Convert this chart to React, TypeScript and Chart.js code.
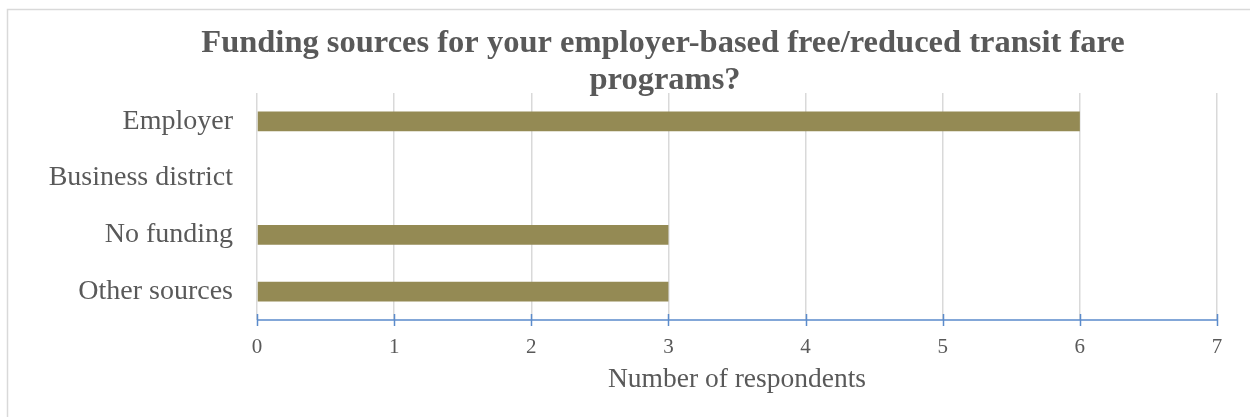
import React, { useEffect, useRef } from "react";
import { Chart, registerables } from "chart.js";

Chart.register(...registerables);

const categories = ["Employer", "Business district", "No funding", "Other sources"];
const respondents = [6, 0, 3, 3];
const titleLines = ["Funding sources for your employer-based free/reduced transit fare", "programs?"];
const xAxisTitle = "Number of respondents";

const TEXT = "#595959";
const FONT = "'Liberation Serif', 'Times New Roman', serif";

const decorPlugin = {
  id: "decor",
  beforeDraw(chart: any) {
    const ctx = chart.ctx;
    ctx.save();
    ctx.fillStyle = "#ffffff";
    ctx.fillRect(0, 0, chart.width, chart.height);
    ctx.strokeStyle = "#D9D9D9";
    ctx.lineWidth = 1.5;
    ctx.strokeRect(7.5, 9.5, chart.width + 20, chart.height + 20);
    ctx.fillStyle = TEXT;
    ctx.font = `bold 32.5px ${FONT}`;
    ctx.textAlign = "center";
    ctx.textBaseline = "alphabetic";
    ctx.fillText(titleLines[0], 663, 52);
    ctx.fillText(titleLines[1], 665, 89);
    ctx.restore();
  },
  afterDatasetsDraw(chart: any) {
    const ctx = chart.ctx;
    const x = chart.scales.x;
    const area = chart.chartArea;
    ctx.save();
    ctx.strokeStyle = "#5B8BCB";
    ctx.lineWidth = 1.5;
    ctx.beginPath();
    ctx.moveTo(area.left, area.bottom);
    ctx.lineTo(area.right, area.bottom);
    x.ticks.forEach((t: any) => {
      const px = Math.round(x.getPixelForValue(t.value)) + 0.5;
      ctx.moveTo(px, area.bottom - 6);
      ctx.lineTo(px, area.bottom + 6);
    });
    ctx.stroke();
    ctx.restore();
  },
};

export default function App() {
  const ref = useRef<HTMLCanvasElement | null>(null);
  useEffect(() => {
    if (!ref.current) return;
    const chart = new Chart(ref.current, {
      type: "bar",
      data: {
        labels: categories,
        datasets: [
          {
            data: respondents,
            backgroundColor: "#948A54",
            barPercentage: 1,
            categoryPercentage: 0.35,
          },
        ],
      },
      options: {
        indexAxis: "y",
        animation: false,
        responsive: false,
        devicePixelRatio: 1,
        layout: { padding: { top: 93, right: 33, left: 0, bottom: 0 } },
        plugins: { legend: { display: false }, title: { display: false }, tooltip: { enabled: false } },
        scales: {
          x: {
            min: 0,
            max: 7,
            ticks: { stepSize: 1, color: TEXT, font: { family: FONT, size: 21 }, padding: 15 },
            grid: { color: "#D9D9D9", lineWidth: 1.5, drawTicks: false },
            border: { display: false },
            title: {
              display: true,
              text: xAxisTitle,
              color: TEXT,
              font: { family: FONT, size: 27.5 },
              padding: { top: 0, bottom: 21 },
            },
            afterFit(scale: any) {
              scale.height = 97;
            },
          },
          y: {
            ticks: { color: TEXT, font: { family: FONT, size: 28 }, padding: 24 },
            grid: { display: false, drawTicks: false },
            border: { display: false },
            afterFit(scale: any) {
              scale.width = 257;
            },
          },
        },
      },
      plugins: [decorPlugin],
    });
    return () => chart.destroy();
  }, []);
  return (
    <div style={{ position: "fixed", left: 0, top: 0, width: 1250, height: 417, overflow: "hidden", background: "#fff" }}>
      <canvas ref={ref} width={1250} height={417} style={{ display: "block", width: 1250, height: 417 }} />
    </div>
  );
}
